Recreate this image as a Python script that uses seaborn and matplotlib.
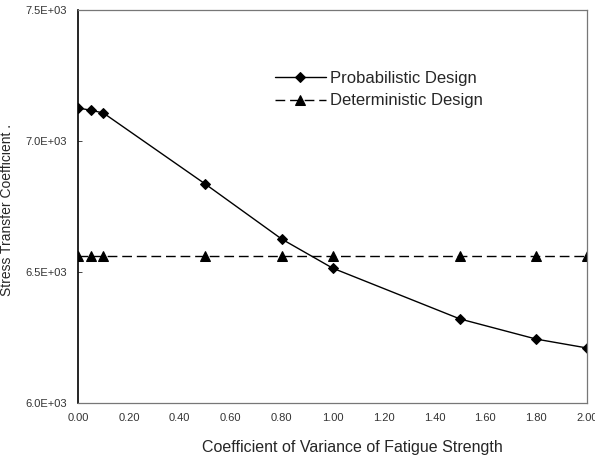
import numpy as np
import pandas as pd
import matplotlib
matplotlib.use("Agg")
import matplotlib.pyplot as plt
from matplotlib.ticker import FuncFormatter
import seaborn as sns

# Data
cov = [0.0, 0.05, 0.10, 0.50, 0.80, 1.00, 1.50, 1.80, 2.00]
prob_design = [7126, 7118, 7107, 6836, 6626, 6515, 6321, 6244, 6210]
det_design = [6561, 6561, 6561, 6561, 6561, 6561, 6561, 6561, 6561]
x_ticks = [0.0, 0.2, 0.4, 0.6, 0.8, 1.0, 1.2, 1.4, 1.6, 1.8, 2.0]
y_ticks = [6000, 6500, 7000, 7500]

sns.set_style("white")
plt.rcParams['font.family'] = ['Liberation Sans', 'DejaVu Sans']

fig = plt.figure(figsize=(5.95, 4.58), dpi=100)
ax = fig.add_axes([0.131, 0.120, 0.856, 0.858])

sns.lineplot(x=cov, y=prob_design, ax=ax, color='black', linewidth=1.0,
             marker='D', markersize=5.5, markeredgecolor='black',
             label='Probabilistic Design')
sns.lineplot(x=cov, y=det_design, ax=ax, color='black', linewidth=1.0,
             marker='^', markersize=7, markeredgecolor='black',
             dashes=False, label='Deterministic Design')
ax.lines[1].set_dashes((7, 3.5))

ax.set_xlim(0, 2.0)
ax.set_ylim(6000, 7500)
ax.set_xticks(x_ticks)
ax.set_yticks(y_ticks)
ax.xaxis.set_major_formatter(FuncFormatter(lambda v, p: f"{v:.2f}"))
ax.yaxis.set_major_formatter(FuncFormatter(lambda v, p: f"{v/1000:.1f}E+03"))
ax.tick_params(axis='x', length=0, pad=7, labelsize=8, labelcolor='#333333')
ax.tick_params(axis='y', direction='in', length=3, width=0.6, pad=8,
               labelsize=8, labelcolor='#333333', left=True)

for side in ['top', 'right', 'bottom']:
    ax.spines[side].set_color('#777777')
    ax.spines[side].set_linewidth(0.9)
ax.spines['left'].set_color('black')
ax.spines['left'].set_linewidth(1.2)

ax.set_xlabel('Coefficient of Variance of Fatigue Strength', fontsize=11.5)
ax.xaxis.set_label_coords(0.538, -0.095)
ax.set_ylabel('Stress Transfer Coefficient .', fontsize=10)
ax.yaxis.set_label_coords(-0.126, 0.49)

leg = ax.legend(loc='upper left', bbox_to_anchor=(0.373, 0.862), frameon=False,
                fontsize=12, handlelength=3.1, handletextpad=0.2,
                labelspacing=0.45, borderaxespad=0)

fig.savefig('out.png', dpi=100)
